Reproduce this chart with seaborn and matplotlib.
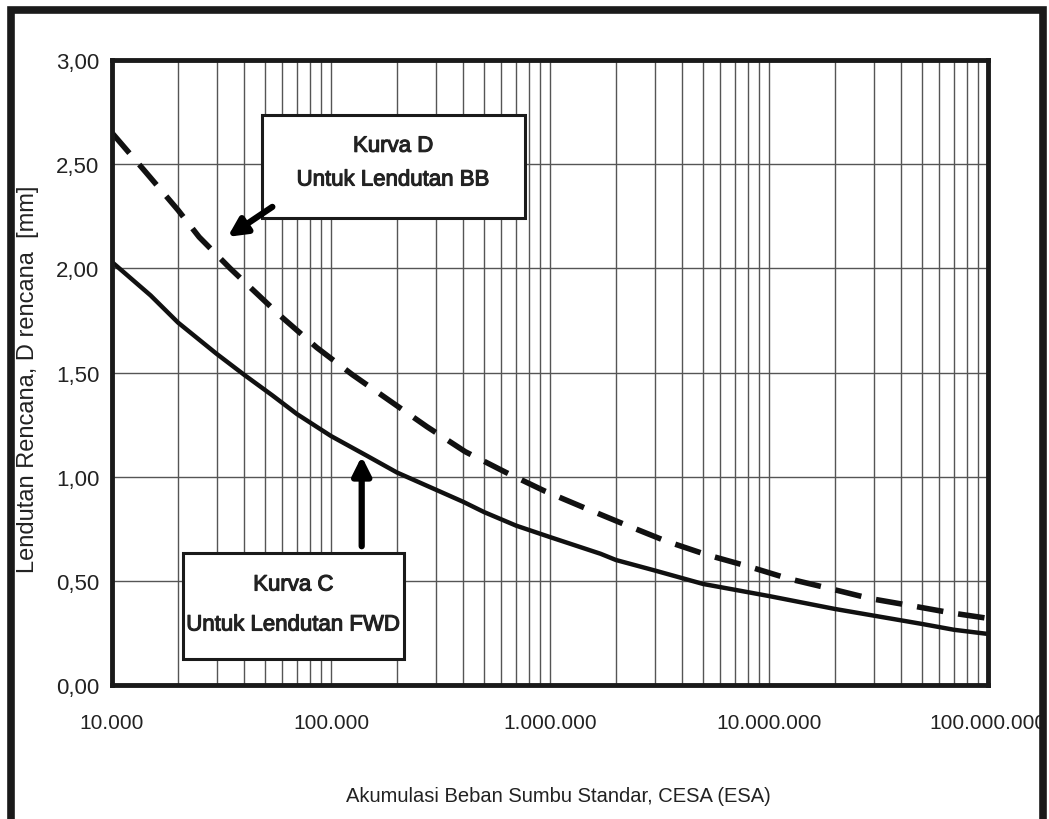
import matplotlib
matplotlib.use("Agg")
import matplotlib.pyplot as plt
import matplotlib.ticker as mticker
import matplotlib.patheffects as pe
from matplotlib.patches import Rectangle
import pandas as pd
import seaborn as sns

# Curve C (FWD) and curve D (BB)
cesa_c = [1e4, 1.5e4, 2e4, 3e4, 4e4, 5.4e4, 7e4, 1e5, 1.46e5, 2e5, 2.9e5, 4e5, 5e5, 7e5,
          1e6, 1.7e6, 2e6, 3e6, 5e6, 1e7, 2e7, 5e7, 7e7, 1e8]
defl_c = [2.03, 1.87, 1.74, 1.59, 1.49, 1.39, 1.30, 1.195, 1.10, 1.02, 0.945, 0.88, 0.83, 0.765,
          0.71, 0.63, 0.60, 0.55, 0.485, 0.427, 0.365, 0.293, 0.265, 0.245]

cesa_d = [1e4, 1.43e4, 2e4, 2.5e4, 3.46e4, 5.9e4, 8.6e4, 1.25e5, 1.88e5, 2.74e5, 4.1e5, 6.3e5,
          9.5e5, 1.44e6, 2.2e6, 3.4e6, 5.2e6, 8e6, 1.23e7, 1.86e7, 2.9e7, 4.5e7, 6.9e7, 1e8]
defl_d = [2.65, 2.46, 2.28, 2.15, 2.00, 1.77, 1.62, 1.49, 1.36, 1.24, 1.12, 1.02,
          0.93, 0.85, 0.77, 0.69, 0.625, 0.57, 0.51, 0.465, 0.415, 0.38, 0.345, 0.32]

x_ticks = [1e4, 1e5, 1e6, 1e7, 1e8]
x_labels = ["10.000", "100.000", "1.000.000", "10.000.000", "100.000.000"]
y_ticks = [0, 0.5, 1.0, 1.5, 2.0, 2.5, 3.0]
y_labels = ["0,00", "0,50", "1,00", "1,50", "2,00", "2,50", "3,00"]

df_c = pd.DataFrame({"cesa": cesa_c, "d": defl_c})
df_d = pd.DataFrame({"cesa": cesa_d, "d": defl_d})

sns.set_style("white")
plt.rcParams["font.family"] = ["Liberation Sans", "DejaVu Sans"]

fig = plt.figure(figsize=(10.49, 8.2), dpi=100)
ax = fig.add_axes([0.1068, 0.1634, 0.8351, 0.7622])

sns.lineplot(data=df_c, x="cesa", y="d", ax=ax, color="#111111", linewidth=3.2)
sns.lineplot(data=df_d, x="cesa", y="d", ax=ax, color="#111111", linewidth=4.0,
             linestyle=(0, (4.8, 2.7)))

ax.set_xscale("log")
ax.set_xlim(1e4, 1e8)
ax.set_ylim(0, 3)
ax.xaxis.set_minor_locator(mticker.LogLocator(base=10, subs=range(2, 10)))
ax.xaxis.set_minor_formatter(mticker.NullFormatter())
ax.set_xticks(x_ticks, x_labels)
ax.set_yticks(y_ticks, y_labels)

ax.grid(True, which="both", axis="x", color="#555555", linewidth=1.0)
ax.grid(True, which="major", axis="y", color="#555555", linewidth=1.0)
ax.set_axisbelow(True)

for s in ax.spines.values():
    s.set_linewidth(3.5)
    s.set_color("#1a1a1a")

ax.tick_params(axis="x", which="both", length=0, labelsize=15, pad=20, colors="#222222")
ax.tick_params(axis="y", length=6, width=1, direction="out", labelsize=16, pad=3, colors="#222222")

ax.set_xlabel("Akumulasi Beban Sumbu Standar, CESA (ESA)", fontsize=14.5, color="#222222")
ax.xaxis.set_label_coords(0.51, -0.162)
ax.set_ylabel("Lendutan Rencana, D rencana  [mm]", fontsize=17, color="#222222")
ax.yaxis.set_label_coords(-0.083, 0.49)

# annotation boxes
box_kw = dict(transform=ax.transAxes, facecolor="white", edgecolor="#1a1a1a",
              linewidth=2.2, zorder=5)
ax.add_patch(Rectangle((0.171, 0.747), 0.300, 0.165, **box_kw))
ax.add_patch(Rectangle((0.081, 0.042), 0.252, 0.169, **box_kw))

txt_kw = dict(transform=ax.transAxes, ha="center", va="center", fontsize=16,
              color="#222222", zorder=6,
              path_effects=[pe.withStroke(linewidth=0.8, foreground="#222222")])
ax.text(0.321, 0.862, "Kurva D", **txt_kw)
ax.text(0.321, 0.808, "Untuk Lendutan BB", **txt_kw)
ax.text(0.207, 0.160, "Kurva C", **txt_kw)
ax.text(0.207, 0.096, "Untuk Lendutan FWD", **txt_kw)

arrow_kw = dict(arrowstyle="-|>,head_length=1.1,head_width=0.55", color="black", lw=4.5,
                shrinkA=0, shrinkB=0)
ax.annotate("", xy=(0.132, 0.717), xytext=(0.183, 0.765), xycoords="axes fraction",
            textcoords="axes fraction", arrowprops=arrow_kw, zorder=6)
ax.annotate("", xy=(0.285, 0.366), xytext=(0.285, 0.222), xycoords="axes fraction",
            textcoords="axes fraction", arrowprops=arrow_kw, zorder=6)

# outer frame around the whole figure
fig.patches.append(Rectangle((0.0105, -0.05), 0.984, 1.036, transform=fig.transFigure,
                             fill=False, edgecolor="#1a1a1a", linewidth=5.5))

fig.savefig("out.png", dpi=100)
